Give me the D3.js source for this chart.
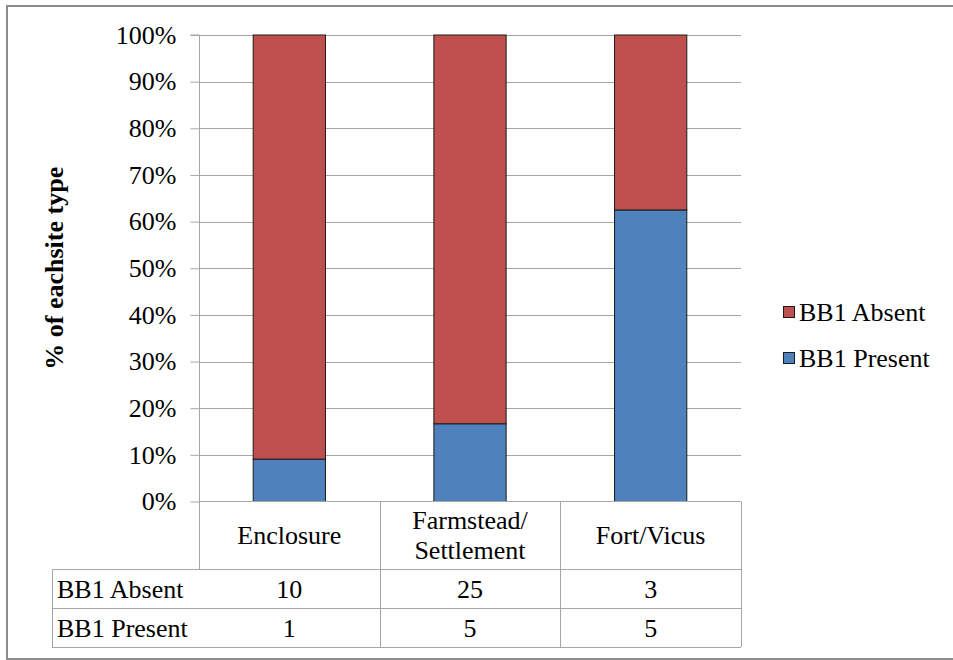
<!DOCTYPE html>
<html>
<head>
<meta charset="utf-8">
<script src="https://cdn.jsdelivr.net/npm/d3@7"></script>
<style>
  html, body { margin: 0; padding: 0; background: #fff; }
  svg { display: block; }
  #chart text, #chart tspan { font-family: "Liberation Serif", "Times New Roman", serif !important; }
</style>
</head>
<body>
<svg id="chart" width="953" height="660" font-family="Liberation Serif"></svg>
<script>
// Site types and counts of sites with / without BB1 pottery
const categories = ["Enclosure", "Farmstead/\nSettlement", "Fort/Vicus"];
const absentCounts = [10, 25, 3];
const presentCounts = [1, 5, 5];
const seriesNames = ["BB1 Absent", "BB1 Present"];
const seriesColors = ["#C0504D", "#4F81BD"];
const yTickValues = [0, 0.1, 0.2, 0.3, 0.4, 0.5, 0.6, 0.7, 0.8, 0.9, 1];
const yTitle = "% of eachsite type";

const svg = d3.select("#chart");
const FONT = "'Liberation Serif', 'Times New Roman', serif";
const fontSize = 26;
const gridColor = "#a6a6a6";

// serif text node with its font pinned inline
const styleText = sel => sel
  .attr("font-family", "Liberation Serif")
  .attr("font-size", fontSize)
  .attr("fill", "#000")
  .style("font-family", FONT, "important")
  .style("font-size", fontSize + "px", "important");
const addText = parent => parent.append("text").call(styleText);

// Layout
const plot = { left: 199, right: 741, top: 35, bottom: 501.5 };
const table = { labelLeft: 52, headerBottom: 569, row1Bottom: 608, row2Bottom: 647 };

// Outer chart frame
svg.append("rect")
  .attr("x", 7).attr("y", 6)
  .attr("width", 970).attr("height", 653)
  .attr("fill", "#fff")
  .attr("stroke", "#8c8c8c").attr("stroke-width", 2);

// Stack rows: present at the bottom, absent on top, normalised to 100%
const rows = categories.map((c, i) => ({ cat: c, present: presentCounts[i], absent: absentCounts[i] }));
const stack = d3.stack().keys(["present", "absent"]).offset(d3.stackOffsetExpand);
const layers = stack(rows);

const x = d3.scaleBand().domain(categories).range([plot.left, plot.right]).paddingInner(0.6).paddingOuter(0.3);
const xCell = d3.scaleBand().domain(categories).range([plot.left, plot.right]);
const y = d3.scaleLinear().domain([0, 1]).range([plot.bottom, plot.top]);

// Horizontal gridlines
svg.append("g").selectAll("line").data(yTickValues.slice(1)).join("line")
  .attr("x1", plot.left).attr("x2", plot.right)
  .attr("y1", d => Math.round(y(d)) + 0.5).attr("y2", d => Math.round(y(d)) + 0.5)
  .attr("stroke", gridColor).attr("stroke-width", 1);

// Bars
const colorBy = { present: seriesColors[1], absent: seriesColors[0] };
svg.append("g").selectAll("g").data(layers).join("g")
  .attr("fill", d => colorBy[d.key])
  .selectAll("rect").data(d => d).join("rect")
  .attr("x", d => x(d.data.cat))
  .attr("width", x.bandwidth())
  .attr("y", d => y(d[1]))
  .attr("height", d => y(d[0]) - y(d[1]))
  .attr("stroke", "#1a1a1a").attr("stroke-width", 1);

// Y axis
const yAxis = d3.axisLeft(y).tickValues(yTickValues).tickFormat(d3.format(".0%")).tickSize(9).tickPadding(14);
const gy = svg.append("g").attr("transform", `translate(${plot.left + 0.5},0)`).call(yAxis)
  .attr("font-family", "Liberation Serif").attr("font-size", fontSize);
gy.select(".domain").attr("stroke", gridColor).attr("d", `M-9,${plot.top}H0V${table.headerBottom}`);
gy.selectAll(".tick line").attr("stroke", gridColor);
gy.selectAll(".tick text").call(styleText);

// Y axis title
addText(svg)
  .attr("transform", `translate(63,${(plot.top + plot.bottom) / 2}) rotate(-90)`)
  .attr("text-anchor", "middle")
  .attr("font-weight", "bold")
  .text(yTitle);

// Data table
const tg = svg.append("g");
const lineAttr = sel => sel.attr("stroke", gridColor).attr("stroke-width", 1).attr("fill", "none");
tg.append("line").call(lineAttr).attr("x1", plot.left).attr("x2", plot.right).attr("y1", plot.bottom).attr("y2", plot.bottom);
[table.headerBottom, table.row1Bottom, table.row2Bottom].forEach(yy => {
  tg.append("line").call(lineAttr).attr("x1", table.labelLeft).attr("x2", plot.right).attr("y1", yy + 0.5).attr("y2", yy + 0.5);
});
categories.forEach(c => {
  const xx = Math.round(xCell(c) + xCell.bandwidth()) + 0.5;
  tg.append("line").call(lineAttr).attr("x1", xx).attr("x2", xx).attr("y1", plot.bottom).attr("y2", table.row2Bottom);
});
tg.append("line").call(lineAttr).attr("x1", table.labelLeft + 0.5).attr("x2", table.labelLeft + 0.5).attr("y1", table.headerBottom).attr("y2", table.row2Bottom);

// category names
categories.forEach(c => {
  const parts = c.split("\n");
  const cx = xCell(c) + xCell.bandwidth() / 2;
  const cy = (plot.bottom + table.headerBottom) / 2;
  const t = addText(tg).attr("text-anchor", "middle");
  parts.forEach((p, i) => {
    t.append("tspan").attr("x", cx)
      .attr("y", cy + (i - (parts.length - 1) / 2) * 30)
      .attr("dy", "0.35em").text(p);
  });
});

// series rows
const seriesRows = [
  { name: seriesNames[0], values: absentCounts, top: table.headerBottom, bottom: table.row1Bottom },
  { name: seriesNames[1], values: presentCounts, top: table.row1Bottom, bottom: table.row2Bottom }
];
seriesRows.forEach(r => {
  const cy = (r.top + r.bottom) / 2;
  addText(tg).attr("x", table.labelLeft + 5).attr("y", cy).attr("dy", "0.35em").text(r.name);
  categories.forEach((c, i) => {
    addText(tg).attr("x", xCell(c) + xCell.bandwidth() / 2).attr("y", cy).attr("dy", "0.35em")
      .attr("text-anchor", "middle").text(r.values[i]);
  });
});

// Legend
const legend = svg.append("g");
const legendItems = [
  { name: seriesNames[0], color: seriesColors[0], y: 312 },
  { name: seriesNames[1], color: seriesColors[1], y: 358 }
];
legendItems.forEach(it => {
  legend.append("rect").attr("x", 783.5).attr("y", it.y - 5.5).attr("width", 11).attr("height", 11)
    .attr("fill", it.color).attr("stroke", "#1a1a1a").attr("stroke-width", 1);
  addText(legend).attr("x", 799).attr("y", it.y).attr("dy", "0.35em").text(it.name);
});
</script>
</body>
</html>
